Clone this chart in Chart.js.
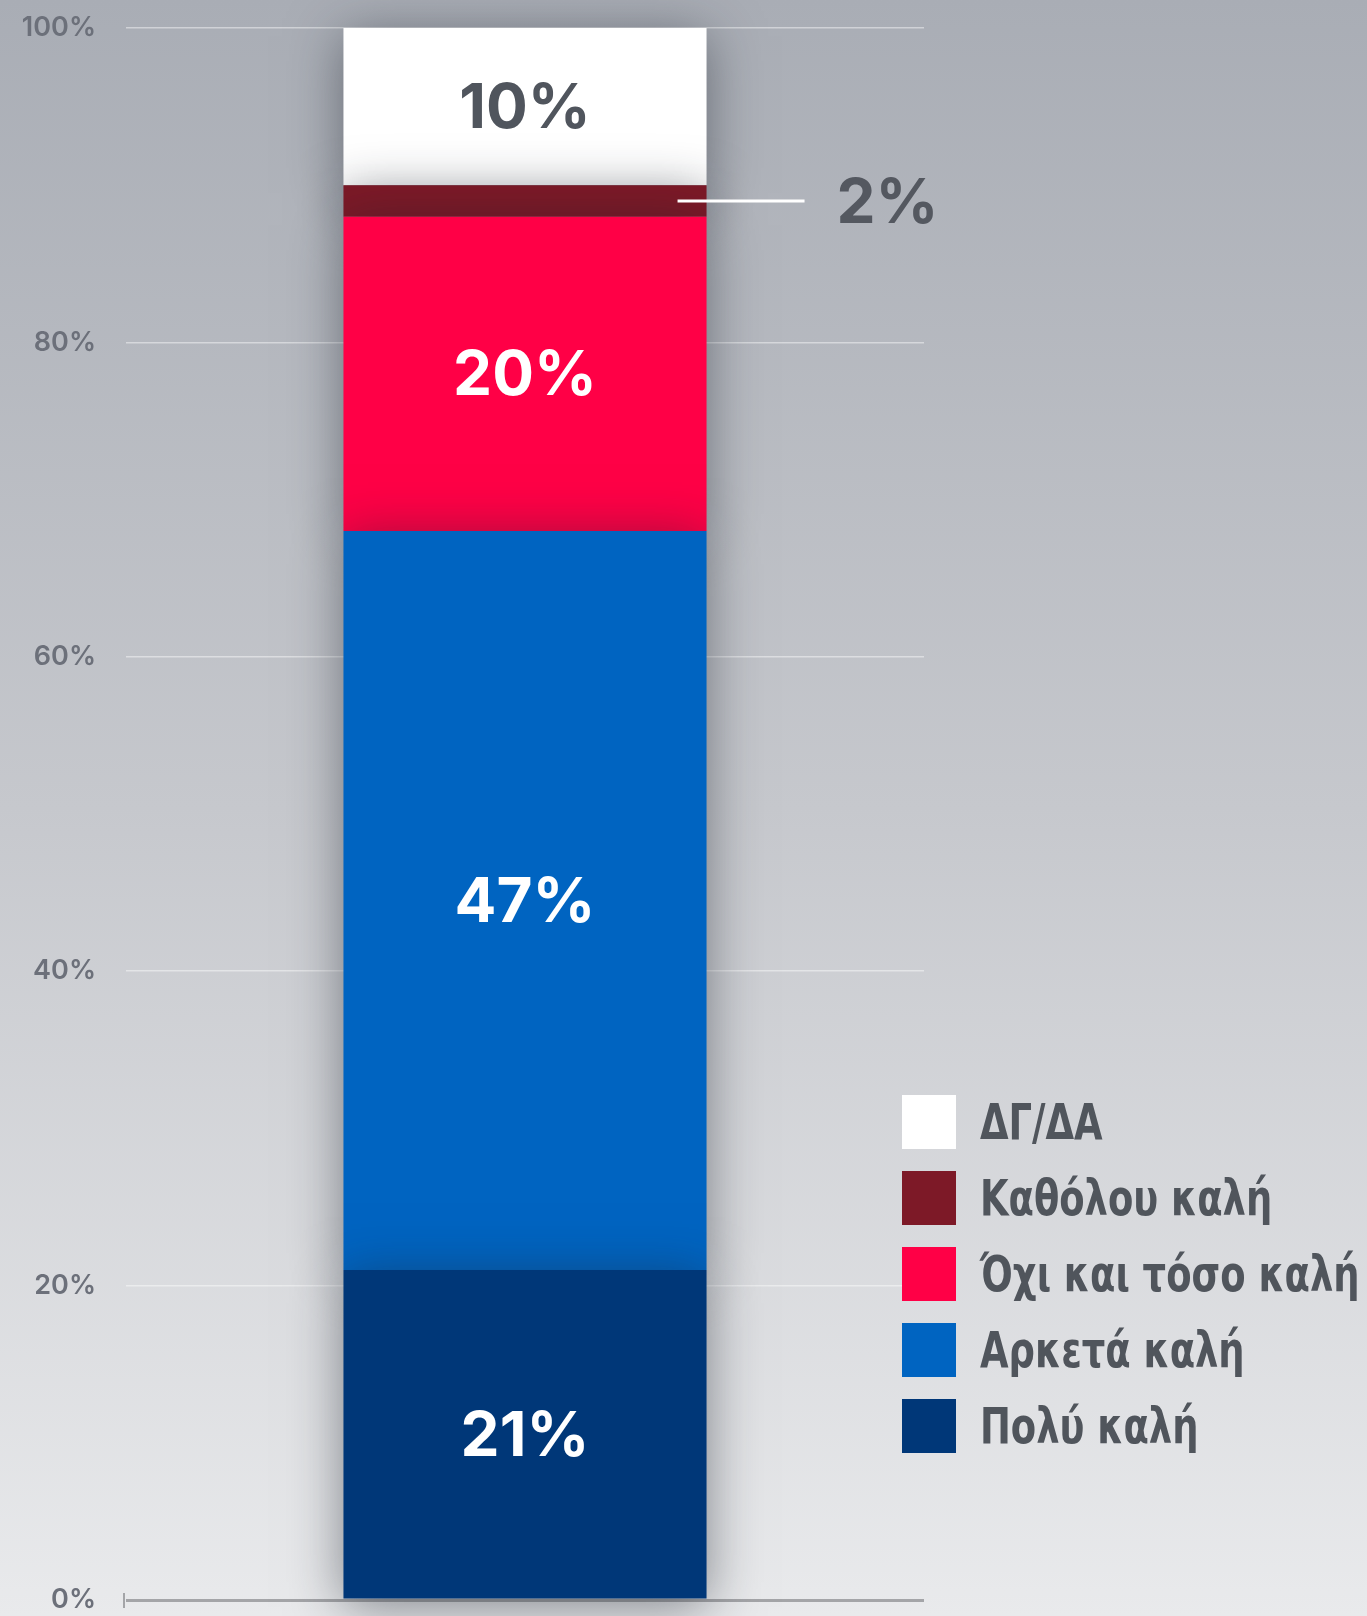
<!DOCTYPE html>
<html>
<head>
<meta charset="utf-8">
<title>Stacked bar</title>
<script src="https://cdn.jsdelivr.net/npm/chart.js@4.4.1/dist/chart.umd.min.js"></script>
<style>
  html, body { margin: 0; padding: 0; }
  body {
    width: 1367px; height: 1616px; position: relative; overflow: hidden;
    background: linear-gradient(180deg, #a9adb5 0%, #c6c8cd 50%, #e9eaec 100%);
  }
  #wrap { position: absolute; left: 0; top: 0; width: 1367px; height: 1616px; }
  #legenda { position: absolute; left: 902px; top: 1095px; }
  .poz { display: flex; align-items: center; height: 54px; margin-bottom: 22px; }
  .kw { width: 54px; height: 54px; flex: none; }
  .txt {
    margin-left: 24px; font-family: 'DejaVu Sans Condensed', 'DejaVu Sans', sans-serif;
    font-weight: 700; font-size: 50px; color: #50555c; white-space: nowrap; line-height: 54px;
    transform: scaleX(0.82); transform-origin: left center;
  }
</style>
</head>
<body>
<div id="wrap"><canvas id="wykres" width="1367" height="1616"></canvas></div>
<div id="legenda"></div>
<script>
// data (bottom segment first)
const kategorie = [''];
const serie = ['Πολύ καλή', 'Αρκετά καλή', 'Όχι και τόσο καλή', 'Καθόλου καλή', 'ΔΓ/ΔΑ'];
const wartosci = [21, 47, 20, 2, 10];
const kolory = ['#003778', '#0064c1', '#ff0046', '#7d1927', '#ffffff'];
const kolorEtykiet = ['#ffffff', '#ffffff', '#ffffff', '#545860', '#50555d'];
const tickiY = [0, 20, 40, 60, 80, 100];

// soft shadow behind the bar segments
const cien = {
  id: 'cien',
  beforeDatasetsDraw(chart) {
    const c = chart.ctx;
    c.save();
    c.shadowColor = 'rgba(30,35,45,0.5)';
    c.shadowBlur = 50;
    c.shadowOffsetY = 8;
  },
  afterDatasetsDraw(chart) {
    chart.ctx.restore();
  }
};

// value labels + callout for the small segment
const napisy = {
  id: 'napisy',
  afterDatasetsDraw(chart) {
    const c = chart.ctx;
    chart.data.datasets.forEach((ds, i) => {
      const bar = chart.getDatasetMeta(i).data[0];
      const v = ds.data[0];
      const srodek = (bar.y + bar.base) / 2;
      c.save();
      c.font = '700 62px Inter';
      c.textBaseline = 'middle';
      c.fillStyle = kolorEtykiet[i];
      if (v < 5) {
        const prawa = bar.x + bar.width / 2;
        c.strokeStyle = '#ffffff';
        c.lineWidth = 3;
        c.beginPath();
        c.moveTo(prawa - 29, srodek);
        c.lineTo(prawa + 98, srodek);
        c.stroke();
        c.textAlign = 'left';
        c.fillText(v + '%', prawa + 130, srodek + 3);
      } else {
        c.textAlign = 'center';
        c.fillText(v + '%', bar.x, srodek + 3);
      }
      c.restore();
    });
    // small tick at the start of the baseline
    const y0 = chart.scales.y.getPixelForValue(0);
    const x0 = chart.chartArea.left - 2;
    c.save();
    c.strokeStyle = '#a4a5a8';
    c.lineWidth = 2;
    c.beginPath();
    c.moveTo(x0, y0 - 7);
    c.lineTo(x0, y0 + 8);
    c.stroke();
    c.restore();
  }
};

const zbiory = serie.map((nazwa, i) => ({
  label: nazwa,
  data: [wartosci[i]],
  backgroundColor: kolory[i],
  borderWidth: 0,
  categoryPercentage: 1,
  barPercentage: 0.455,
  clip: false
}));

const ctx = document.getElementById('wykres').getContext('2d');
const myChart = new Chart(ctx, {
  type: 'bar',
  data: { labels: kategorie, datasets: zbiory },
  options: {
    responsive: false,
    animation: false,
    layout: { padding: { left: 0, right: 443, top: 28, bottom: 16 } },
    scales: {
      x: { stacked: true, display: false },
      y: {
        stacked: true,
        min: 0,
        max: 100,
        afterBuildTicks: s => { s.ticks = tickiY.map(v => ({ value: v })); },
        afterFit: s => { s.width = 126; s.paddingTop = 10; s.paddingBottom = 10; },
        border: { display: false },
        grid: {
          drawTicks: false,
          color: c => c.tick.value === 0 ? '#a4a5a8' : 'rgba(255,255,255,0.45)',
          lineWidth: c => c.tick.value === 0 ? 3 : 1.5
        },
        ticks: {
          padding: 30,
          color: '#6c707a',
          font: { family: 'Inter', size: 27, weight: '600' },
          callback: v => v + '%'
        }
      }
    },
    plugins: {
      legend: { display: false },
      tooltip: { enabled: false }
    }
  },
  plugins: [cien, napisy]
});

// legend in html, top segment first
const leg = document.getElementById('legenda');
for (let i = serie.length - 1; i >= 0; i--) {
  const p = document.createElement('div');
  p.className = 'poz';
  p.innerHTML = '<div class="kw" style="background:' + kolory[i] + '"></div><div class="txt">' + serie[i] + '</div>';
  leg.appendChild(p);
}
</script>
</body>
</html>
